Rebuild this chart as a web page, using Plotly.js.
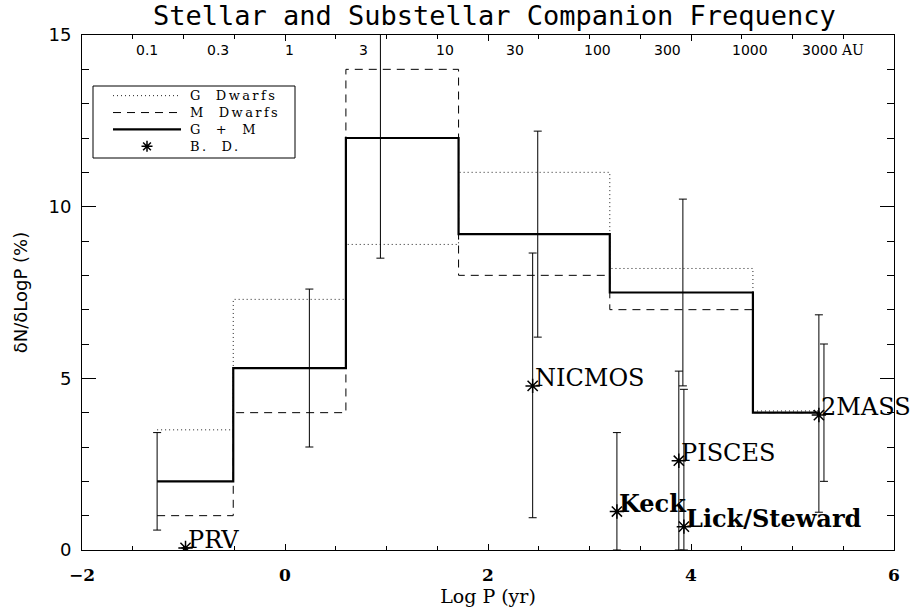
<!DOCTYPE html>
<html>
<head>
<meta charset="utf-8">
<script src="https://cdn.plot.ly/plotly-3.0.1.min.js"></script>
<style>html,body{margin:0;padding:0;background:#fff;}#chart{width:924px;height:610px;}</style>
</head>
<body>
<div id="chart"></div>
<script>
// ---- data ----
var binEdges = [-1.26, -0.51, 0.60, 1.71, 3.20, 4.61, 5.27];   // Log P (yr)
var gDwarfs  = [3.5, 7.3, 8.9, 11.0, 8.2, 4.05];                // %
var mDwarfs  = [1.0, 4.0, 14.0, 8.0, 7.0, 4.0];
var gPlusM   = [2.0, 5.3, 12.0, 9.2, 7.5, 4.0];
var gmErrX   = [-1.26, 0.24, 0.94, 2.49, 3.92, 5.31];
var gmErr    = [1.42, 2.3, 3.5, 3.0, 2.72, 2.0];

var bdNames    = ['PRV', 'NICMOS', 'Keck', 'PISCES', 'Lick/Steward', '2MASS'];
var bdX        = [-0.98, 2.44, 3.27, 3.88, 3.93, 5.26];
var bdY        = [0.06, 4.78, 1.12, 2.60, 0.68, 3.93];
var bdErrPlus  = [null, 3.87, 2.30, 2.61, 4.0, 2.92];
var bdErrMinus = [null, 3.84, 1.12, 2.60, 0.68, 2.83];
var bdBold     = [false, false, true, false, true, false];

var auLabels = ['0.1', '0.3', '1', '3', '10', '30', '100', '300', '1000', '3000'];
var auLogP   = [-1.36, -0.665, 0.04, 0.77, 1.58, 2.27, 3.08, 3.77, 4.58, 5.27];

var legendNames = ['G\u00a0\u00a0Dwarfs', 'M\u00a0\u00a0Dwarfs', 'G\u00a0\u00a0+\u00a0\u00a0M', 'B.\u00a0\u00a0D.'];

// ---- traces ----
function stepY(v) { return v.concat([v[v.length - 1]]); }

var dotStyle  = {color: '#222', width: 1, dash: '1px,3px'};
var dashStyle = {color: '#000', width: 1, dash: '8px,6px'};
var solidStyle = {color: '#000', width: 2.2};

var traces = [
  {x: binEdges, y: stepY(gDwarfs), mode: 'lines', name: legendNames[0],
   line: Object.assign({shape: 'hv'}, dotStyle)},
  {x: binEdges, y: stepY(mDwarfs), mode: 'lines', name: legendNames[1],
   line: Object.assign({shape: 'hv'}, dashStyle)},
  {x: binEdges, y: stepY(gPlusM), mode: 'lines', name: legendNames[2],
   line: Object.assign({shape: 'hv'}, solidStyle)},
  {x: gmErrX, y: gPlusM, mode: 'markers', showlegend: false, hoverinfo: 'skip',
   marker: {size: 1, color: 'rgba(0,0,0,0)'},
   error_y: {type: 'data', array: gmErr, visible: true, color: '#000', thickness: 1, width: 4}},
  {x: bdX, y: bdY, mode: 'markers', name: legendNames[3],
   marker: {symbol: 'asterisk-open', size: 12, color: '#000', line: {color: '#000', width: 1.5}},
   error_y: {type: 'data', symmetric: false, array: bdErrPlus, arrayminus: bdErrMinus,
             visible: true, color: '#000', thickness: 1, width: 4}}
];

// ---- annotations ----
var annotations = [];
for (var i = 0; i < bdNames.length; i++) {
  annotations.push({
    x: bdX[i], y: bdY[i], xref: 'x', yref: 'y', showarrow: false,
    text: bdBold[i] ? '<b>' + bdNames[i] + '</b>' : bdNames[i],
    xanchor: 'left', yanchor: 'middle', xshift: 0, yshift: 8,
    font: {family: 'DejaVu Serif', size: 24, color: '#000'}
  });
}
for (var j = 0; j < auLabels.length; j++) {
  annotations.push({
    x: auLogP[j], y: 0.971, xref: 'x', yref: 'paper', showarrow: false,
    text: auLabels[j], xanchor: 'center', yanchor: 'middle',
    font: {family: 'DejaVu Sans', size: 14, color: '#000'}
  });
}
annotations.push({
  x: auLogP[auLabels.length - 1], y: 0.971, xref: 'x', yref: 'paper', showarrow: false,
  text: 'AU', xanchor: 'left', yanchor: 'middle', xshift: 19,
  font: {family: 'DejaVu Serif', size: 14, color: '#000'}
});

// ---- legend box drawn in paper coordinates ----
function px(p) { return (p - 82) / 812; }
function py(p) { return (550 - p) / 515; }
var legFont = 13;
var legStep = legFont * 1.3;
var legMid = 121;
var legRows = [];
for (var r = 0; r < 4; r++) legRows.push(legMid + (r - 1.5) * legStep);

var shapes = [
  {type: 'rect', xref: 'paper', yref: 'paper', x0: px(93), x1: px(295), y0: py(158), y1: py(86),
   line: {color: '#000', width: 1}, fillcolor: 'rgba(0,0,0,0)'}
];
var legLines = [dotStyle, dashStyle, solidStyle];
for (var k = 0; k < 3; k++) {
  shapes.push({type: 'line', xref: 'paper', yref: 'paper', x0: px(113), x1: px(181),
               y0: py(legRows[k]), y1: py(legRows[k]), line: legLines[k]});
}
(function () {
  var cx = 147, cy = legRows[3], r = 5.5, d = 3.9;
  var p = 'M' + px(cx - r) + ',' + py(cy) + 'L' + px(cx + r) + ',' + py(cy) +
          'M' + px(cx) + ',' + py(cy - r) + 'L' + px(cx) + ',' + py(cy + r) +
          'M' + px(cx - d) + ',' + py(cy - d) + 'L' + px(cx + d) + ',' + py(cy + d) +
          'M' + px(cx - d) + ',' + py(cy + d) + 'L' + px(cx + d) + ',' + py(cy - d);
  shapes.push({type: 'path', xref: 'paper', yref: 'paper', path: p, line: {color: '#000', width: 1.5}});
})();
annotations.push({
  x: px(189), y: py(legMid), xref: 'paper', yref: 'paper', showarrow: false,
  xanchor: 'left', yanchor: 'middle', align: 'left', borderpad: 0,
  text: '<span style="letter-spacing:2.4px">' + legendNames.join('<br>') + '</span>',
  font: {family: 'DejaVu Serif', size: legFont, color: '#000'}
});

var layout = {
  width: 924, height: 610,
  margin: {l: 82, r: 30, t: 35, b: 60},
  paper_bgcolor: '#fff', plot_bgcolor: '#fff',
  showlegend: false,
  title: {text: 'Stellar and Substellar Companion Frequency', xref: 'container', x: 0.535,
          y: 0.974, yanchor: 'middle',
          font: {family: 'DejaVu Sans Mono', size: 27, color: '#000'}},
  xaxis: {range: [-2, 6], dtick: 2, tick0: 0, ticks: 'inside', ticklen: 6, tickcolor: '#000',
          mirror: 'allticks', showline: true, linecolor: '#000', linewidth: 1,
          showgrid: false, zeroline: false, ticklabelstandoff: 10,
          minor: {dtick: 0.5, ticks: 'inside', ticklen: 4, tickcolor: '#000', showgrid: false},
          tickfont: {family: 'DejaVu Serif', size: 17, color: '#000', weight: 'bold'},
          title: {text: 'Log P (yr)', standoff: 3,
                  font: {family: 'DejaVu Serif', size: 19, color: '#000'}}},
  yaxis: {range: [0, 15], dtick: 5, ticks: 'inside', ticklen: 14, tickcolor: '#000',
          mirror: 'allticks', showline: true, linecolor: '#000', linewidth: 1,
          showgrid: false, zeroline: false, ticklabelstandoff: 6,
          minor: {dtick: 1, ticks: 'inside', ticklen: 7, tickcolor: '#000', showgrid: false},
          tickfont: {family: 'DejaVu Sans', size: 18, color: '#000'},
          title: {text: 'δN/δLogP (%)', standoff: 16,
                  font: {family: 'DejaVu Sans', size: 18, color: '#000'}}},
  shapes: shapes,
  annotations: annotations
};

Plotly.newPlot('chart', traces, layout, {displayModeBar: false, staticPlot: true});
</script>
</body>
</html>
